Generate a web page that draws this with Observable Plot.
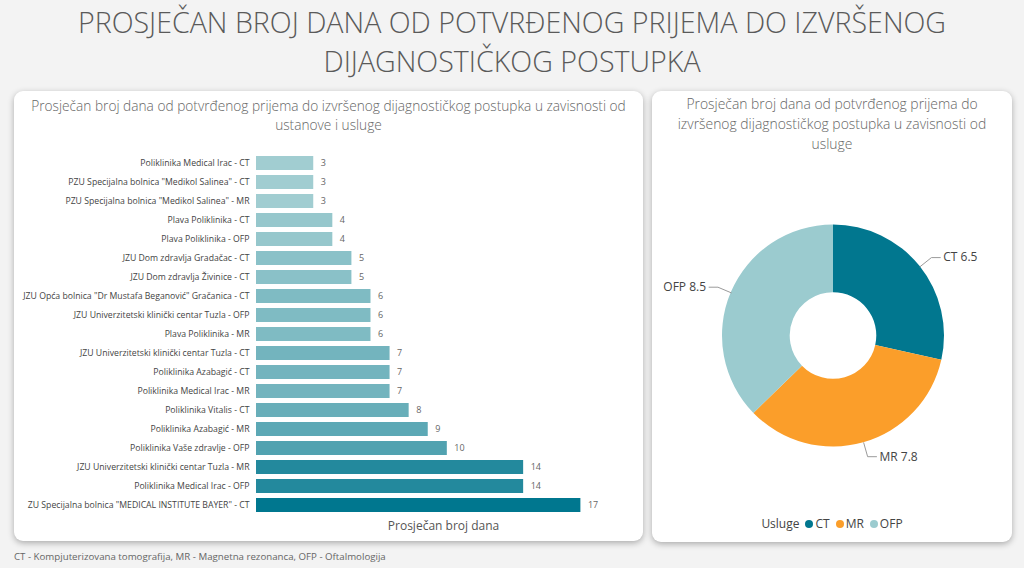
<!DOCTYPE html>
<html><head><meta charset="utf-8">
<script src="https://cdn.jsdelivr.net/npm/d3@7"></script>
<script src="https://cdn.jsdelivr.net/npm/@observablehq/plot@0.6"></script>
<style>
html,body{margin:0;padding:0;width:1024px;height:568px;overflow:hidden;background:#f3f3f3;font-family:"Open Sans",sans-serif;}
#title{position:absolute;left:0;top:2px;width:1024px;text-align:center;font-size:28.6px;font-weight:300;line-height:39px;color:#5a5a5a;}
.card{position:absolute;background:#fff;border-radius:9px;box-shadow:0 2px 6px rgba(0,0,0,0.3);}
#leftCard{left:14px;top:91px;width:629px;height:450px;}
#rightCard{left:652px;top:91px;width:360px;height:451px;}
#leftSub{position:absolute;left:14px;top:96px;width:629px;text-align:center;font-size:13.7px;line-height:19px;color:#666;font-weight:300;}
#rightSub{position:absolute;left:652px;top:94px;width:360px;text-align:center;font-size:13.9px;line-height:20px;color:#666;font-weight:300;}
#bars{position:absolute;left:12px;top:140px;}
#donut{position:absolute;left:653px;top:180px;}
#legend{position:absolute;left:652px;top:515px;width:360px;display:flex;justify-content:center;align-items:center;font-size:12px;color:#444;gap:6px;}
#legend .it{display:flex;align-items:center;gap:2px;}
#legend .dot{width:8px;height:8px;border-radius:50%;display:inline-block;}
#foot{position:absolute;left:14px;top:550px;font-size:9.7px;color:#666;}
</style></head>
<body>
<div id="title">PROSJEČAN BROJ DANA OD POTVRĐENOG PRIJEMA DO IZVRŠENOG<br>DIJAGNOSTIČKOG POSTUPKA</div>
<div class="card" id="leftCard"></div>
<div class="card" id="rightCard"></div>
<div id="leftSub">Prosječan broj dana od potvrđenog prijema do izvršenog dijagnostičkog postupka u zavisnosti od<br>ustanove i usluge</div>
<div id="rightSub">Prosječan broj dana od potvrđenog prijema do<br>izvršenog dijagnostičkog postupka u zavisnosti od<br>usluge</div>
<div id="bars"></div>
<div id="donut"></div>
<div id="legend"></div>
<div id="foot">CT - Kompjuterizovana tomografija, MR - Magnetna rezonanca, OFP - Oftalmologija</div>
<script>
// ---- Bar chart data ----
const institutions = [
  "Poliklinika Medical Irac - CT",
  "PZU Specijalna bolnica \"Medikol Salinea\" - CT",
  "PZU Specijalna bolnica \"Medikol Salinea\" - MR",
  "Plava Poliklinika - CT",
  "Plava Poliklinika - OFP",
  "JZU Dom zdravlja Gradačac - CT",
  "JZU Dom zdravlja Živinice - CT",
  "JZU Opća bolnica \"Dr Mustafa Beganović\" Gračanica - CT",
  "JZU Univerzitetski klinički centar Tuzla - OFP",
  "Plava Poliklinika - MR",
  "JZU Univerzitetski klinički centar Tuzla - CT",
  "Poliklinika Azabagić - CT",
  "Poliklinika Medical Irac - MR",
  "Poliklinika Vitalis - CT",
  "Poliklinika Azabagić - MR",
  "Poliklinika Vaše zdravlje - OFP",
  "JZU Univerzitetski klinički centar Tuzla - MR",
  "Poliklinika Medical Irac - OFP",
  "ZU Specijalna bolnica \"MEDICAL INSTITUTE BAYER\" - CT"
];
const avgDays = [3,3,3,4,4,5,5,6,6,6,7,7,7,8,9,10,14,14,17];
const barColorRange = ["#a1cdd1", "#00778f"];
const xAxisTitle = "Prosječan broj dana";

// ---- Donut data ----
const services = ["CT", "MR", "OFP"];
const serviceAvg = [6.5, 7.8, 8.5];
const serviceColors = ["#01778f", "#fb9e2a", "#9bcbcf"];
const legendTitle = "Usluge";

const barData = institutions.map((name, i) => ({name, value: avgDays[i]}));

const bars = Plot.plot({
  width: 631, height: 400,
  marginLeft: 244, marginRight: 13, marginTop: 9.7, marginBottom: 23,
  x: {domain: [0, 19.6], axis: null},
  y: {domain: institutions, label: null, tickSize: 0, tickPadding: 7, paddingInner: 0.28, paddingOuter: 0.14},
  color: {type: "linear", domain: [3, 17], range: barColorRange},
  style: {fontSize: "8.7px", fontFamily: "Open Sans, sans-serif", color: "#444", background: "transparent"},
  marks: [
    Plot.barX(barData, {x: "value", y: "name", fill: "value"}),
    Plot.text(barData, {x: "value", y: "name", text: d => String(d.value), dx: 7, textAnchor: "start", fill: "#666", fontSize: 9}),
    Plot.text([xAxisTitle], {frameAnchor: "bottom", text: d => d, dy: 12, fontSize: 12, fill: "#555"})
  ]
});
document.getElementById("bars").appendChild(bars);

// ---- Donut ----
const pieData = services.map((s, i) => ({service: s, value: serviceAvg[i]}));
const arcs = d3.pie().sort(null).value(d => d.value)(pieData);
const outerR = 1, innerR = 0.39;
const W = 359, H = 320, cxPx = 180, cyPx = 155.5, pxPerUnit = 111;
const leaders = arcs.flatMap(a => {
  const m = (a.startAngle + a.endAngle) / 2;
  const s = Math.sin(m), c = Math.cos(m);
  const side = s >= 0 ? 1 : -1;
  return [
    {service: a.data.service, x: outerR * s, y: outerR * c},
    {service: a.data.service, x: 1.13 * s, y: 1.13 * c},
    {service: a.data.service, x: 1.13 * s + side * 0.08, y: 1.13 * c}
  ];
});
const labels = arcs.map(a => {
  const m = (a.startAngle + a.endAngle) / 2;
  const s = Math.sin(m), c = Math.cos(m);
  const side = s >= 0 ? 1 : -1;
  return {x: 1.13 * s + side * 0.08, y: 1.13 * c, side, text: `${a.data.service} ${a.data.value}`};
});

const colorOf = d3.scaleOrdinal(services, serviceColors);
const donutMark = (index, scales) => {
  const cx = scales.x(0), cy = scales.y(0);
  const R = scales.x(outerR) - cx, r = scales.x(innerR) - cx;
  const col = scales.color || colorOf;
  const g = d3.create("svg:g").attr("transform", `translate(${cx},${cy})`);
  g.selectAll("path").data(arcs).join("path")
    .attr("d", d3.arc().innerRadius(r).outerRadius(R))
    .attr("fill", d => col(d.data.service));
  return g.node();
};

const donut = Plot.plot({
  width: W, height: H, margin: 0,
  x: {domain: [-cxPx / pxPerUnit, (W - cxPx) / pxPerUnit], axis: null},
  y: {domain: [-(H - cyPx) / pxPerUnit, cyPx / pxPerUnit], axis: null},
  color: {domain: services, range: serviceColors},
  style: {fontFamily: "Open Sans, sans-serif", background: "transparent"},
  marks: [
    donutMark,
    Plot.line(leaders, {x: "x", y: "y", z: "service", stroke: "#9a9a9a", strokeWidth: 1}),
    Plot.text(labels.filter(d => d.side > 0), {x: "x", y: "y", text: "text", dx: 3, textAnchor: "start", fontSize: 12, fill: "#444"}),
    Plot.text(labels.filter(d => d.side < 0), {x: "x", y: "y", text: "text", dx: -3, textAnchor: "end", fontSize: 12, fill: "#444"})
  ]
});
document.getElementById("donut").appendChild(donut);

// ---- Legend ----
const leg = document.getElementById("legend");
const lt = document.createElement("span"); lt.textContent = legendTitle; leg.appendChild(lt);
services.forEach((s, i) => {
  const it = document.createElement("span"); it.className = "it";
  const dot = document.createElement("span"); dot.className = "dot"; dot.style.background = serviceColors[i];
  const tx = document.createElement("span"); tx.textContent = s;
  it.appendChild(dot); it.appendChild(tx); leg.appendChild(it);
});
</script>
</body></html>
